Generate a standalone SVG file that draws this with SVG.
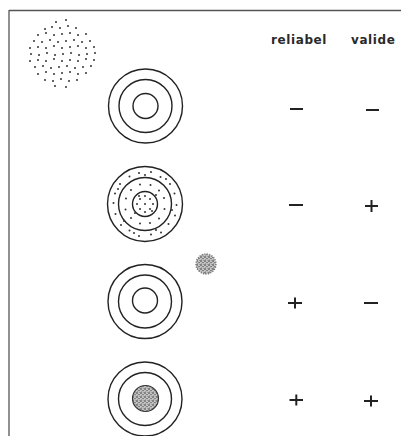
<svg xmlns="http://www.w3.org/2000/svg" width="401" height="436" viewBox="0 0 401 436">
<style>
.frame{stroke:#555;stroke-width:1.3;fill:none}
.ring{fill:none;stroke:#222;stroke-width:1.4}
.dot{fill:#333}
.sign{stroke:#222;stroke-width:2;fill:none}
.lbl{font-family:"DejaVu Sans","Liberation Sans",sans-serif;font-weight:bold;font-size:12px;letter-spacing:0.6px;fill:#2a2a2a}
</style>
<defs>
<pattern id="stip" width="4" height="4" patternUnits="userSpaceOnUse">
<rect width="4" height="4" fill="#c4c4c4"/>
<circle cx="1" cy="1" r="0.8" fill="#333"/>
<circle cx="3" cy="2.6" r="0.7" fill="#444"/>
<circle cx="1.6" cy="3.4" r="0.4" fill="#666"/>
<circle cx="3.3" cy="0.5" r="0.4" fill="#777"/>
</pattern>
</defs>
<rect width="401" height="436" fill="#fff"/>
<g id="frame">
<line class="frame" x1="9" y1="10.5" x2="401" y2="10.5"/>
<line class="frame" x1="9" y1="10" x2="9" y2="436"/>
</g>
<g id="cloud" class="dot">
<circle cx="56" cy="22" r="1"/><circle cx="66" cy="20" r="1"/>
<circle cx="45" cy="29" r="1"/><circle cx="52" cy="27" r="1"/><circle cx="60" cy="28" r="1"/><circle cx="68" cy="26" r="1"/><circle cx="76" cy="28" r="1"/>
<circle cx="38" cy="35" r="1"/><circle cx="46" cy="33" r="1"/><circle cx="54" cy="35" r="1"/><circle cx="62" cy="34" r="1"/><circle cx="70" cy="33" r="1"/><circle cx="78" cy="35" r="1"/><circle cx="86" cy="34" r="1"/>
<circle cx="34" cy="41" r="1"/><circle cx="42" cy="42" r="1"/><circle cx="50" cy="40" r="1"/><circle cx="58" cy="42" r="1"/><circle cx="66" cy="41" r="1"/><circle cx="74" cy="40" r="1"/><circle cx="82" cy="42" r="1"/><circle cx="90" cy="41" r="1"/>
<circle cx="30" cy="48" r="1"/><circle cx="38" cy="47" r="1"/><circle cx="46" cy="48" r="1"/><circle cx="54" cy="46" r="1"/><circle cx="62" cy="48" r="1"/><circle cx="70" cy="47" r="1"/><circle cx="78" cy="46" r="1"/><circle cx="86" cy="48" r="1"/><circle cx="94" cy="47" r="1"/>
<circle cx="31" cy="54" r="1"/><circle cx="39" cy="55" r="1"/><circle cx="47" cy="53" r="1"/><circle cx="55" cy="55" r="1"/><circle cx="63" cy="54" r="1"/><circle cx="71" cy="53" r="1"/><circle cx="79" cy="55" r="1"/><circle cx="87" cy="54" r="1"/><circle cx="95" cy="53" r="1"/>
<circle cx="30" cy="61" r="1"/><circle cx="38" cy="60" r="1"/><circle cx="46" cy="61" r="1"/><circle cx="54" cy="59" r="1"/><circle cx="62" cy="61" r="1"/><circle cx="70" cy="60" r="1"/><circle cx="78" cy="61" r="1"/><circle cx="86" cy="59" r="1"/><circle cx="94" cy="60" r="1"/>
<circle cx="35" cy="67" r="1"/><circle cx="43" cy="66" r="1"/><circle cx="51" cy="68" r="1"/><circle cx="59" cy="67" r="1"/><circle cx="67" cy="66" r="1"/><circle cx="75" cy="68" r="1"/><circle cx="83" cy="67" r="1"/><circle cx="91" cy="66" r="1"/>
<circle cx="38" cy="74" r="1"/><circle cx="46" cy="72" r="1"/><circle cx="54" cy="74" r="1"/><circle cx="62" cy="73" r="1"/><circle cx="70" cy="72" r="1"/><circle cx="78" cy="74" r="1"/><circle cx="86" cy="73" r="1"/>
<circle cx="45" cy="80" r="1"/><circle cx="53" cy="81" r="1"/><circle cx="61" cy="79" r="1"/><circle cx="69" cy="81" r="1"/><circle cx="77" cy="80" r="1"/>
<circle cx="55" cy="86" r="1"/><circle cx="66" cy="87" r="1"/>
</g>
<g id="labels">
<text class="lbl" x="271" y="44">reliabel</text>
<text class="lbl" x="351" y="44">valide</text>
</g>
<g id="target1">
<circle class="ring" cx="145.5" cy="106" r="37"/>
<circle class="ring" cx="145.5" cy="106" r="26.5"/>
<circle class="ring" cx="145.5" cy="106" r="12.5"/>
</g>
<g id="target2">
<circle class="ring" cx="145" cy="204" r="37.5"/>
<circle class="ring" cx="145" cy="204" r="26.5"/>
<circle class="ring" cx="145" cy="204" r="12.5"/>
<g class="dot">
<circle cx="176.5" cy="205" r="1"/><circle cx="175" cy="215.5" r="1"/><circle cx="168.5" cy="224" r="1"/><circle cx="161" cy="232.5" r="1"/><circle cx="151" cy="234.5" r="1"/><circle cx="139" cy="236" r="1"/><circle cx="129.5" cy="230.5" r="1"/><circle cx="121" cy="225" r="1"/><circle cx="115.5" cy="214" r="1"/><circle cx="113.5" cy="203" r="1"/><circle cx="115" cy="193.5" r="1"/><circle cx="120" cy="184" r="1"/><circle cx="129.5" cy="176.5" r="1"/><circle cx="139" cy="173" r="1"/><circle cx="151" cy="172" r="1"/><circle cx="160.5" cy="177" r="1"/><circle cx="170" cy="184" r="1"/><circle cx="174.5" cy="193.5" r="1"/>
<circle cx="172" cy="210" r="1"/><circle cx="156" cy="230" r="1"/><circle cx="124" cy="221" r="1"/><circle cx="118" cy="189" r="1"/><circle cx="145" cy="175" r="1"/><circle cx="134" cy="233" r="1"/><circle cx="166" cy="179" r="1"/>
<circle cx="164.5" cy="209" r="1"/><circle cx="159" cy="218.5" r="1"/><circle cx="150" cy="223" r="1"/><circle cx="140" cy="223.5" r="1"/><circle cx="131" cy="218" r="1"/><circle cx="125.5" cy="209.5" r="1"/><circle cx="126" cy="198.5" r="1"/><circle cx="131" cy="190" r="1"/><circle cx="140" cy="184.5" r="1"/><circle cx="150.5" cy="185" r="1"/><circle cx="159" cy="190.5" r="1"/><circle cx="164" cy="198" r="1"/><circle cx="135" cy="213" r="1"/><circle cx="156" cy="195" r="1"/>
<circle cx="145" cy="204" r="1"/><circle cx="140" cy="199" r="1"/><circle cx="150" cy="199" r="1"/><circle cx="140" cy="209" r="1"/><circle cx="150" cy="209" r="1"/><circle cx="145" cy="196" r="1"/><circle cx="145" cy="212" r="1"/><circle cx="137" cy="204" r="1"/><circle cx="153" cy="204" r="1"/><circle cx="139" cy="196" r="1"/><circle cx="152" cy="211" r="1"/>
</g>
</g>
<g id="cluster">
<circle cx="206" cy="264" r="10" fill="url(#stip)" stroke="#777" stroke-width="1.4" stroke-dasharray="1.2 1.3"/>
</g>
<g id="target3">
<circle class="ring" cx="145" cy="301.5" r="37"/>
<circle class="ring" cx="145" cy="301.5" r="26.5"/>
<circle class="ring" cx="145" cy="300.5" r="12.5"/>
</g>
<g id="target4">
<circle class="ring" cx="145" cy="399" r="37"/>
<circle class="ring" cx="145" cy="399" r="26.5"/>
<circle cx="145.5" cy="398.5" r="13" fill="url(#stip)" stroke="#333" stroke-width="1.2"/>
</g>
<g id="signs">
<line class="sign" x1="290" y1="109" x2="303" y2="109"/>
<line class="sign" x1="366" y1="110" x2="379" y2="110"/>
<line class="sign" x1="289" y1="205" x2="303" y2="205"/>
<path class="sign" d="M365 206H378M371.5 200V212"/>
<path class="sign" d="M288 303H302M295 297.5V308.5"/>
<line class="sign" x1="364" y1="303" x2="378" y2="303"/>
<path class="sign" d="M289.5 400H303M296.3 394.5V405.5"/>
<path class="sign" d="M364 401H378M371 395.5V406.5"/>
</g>
</svg>
